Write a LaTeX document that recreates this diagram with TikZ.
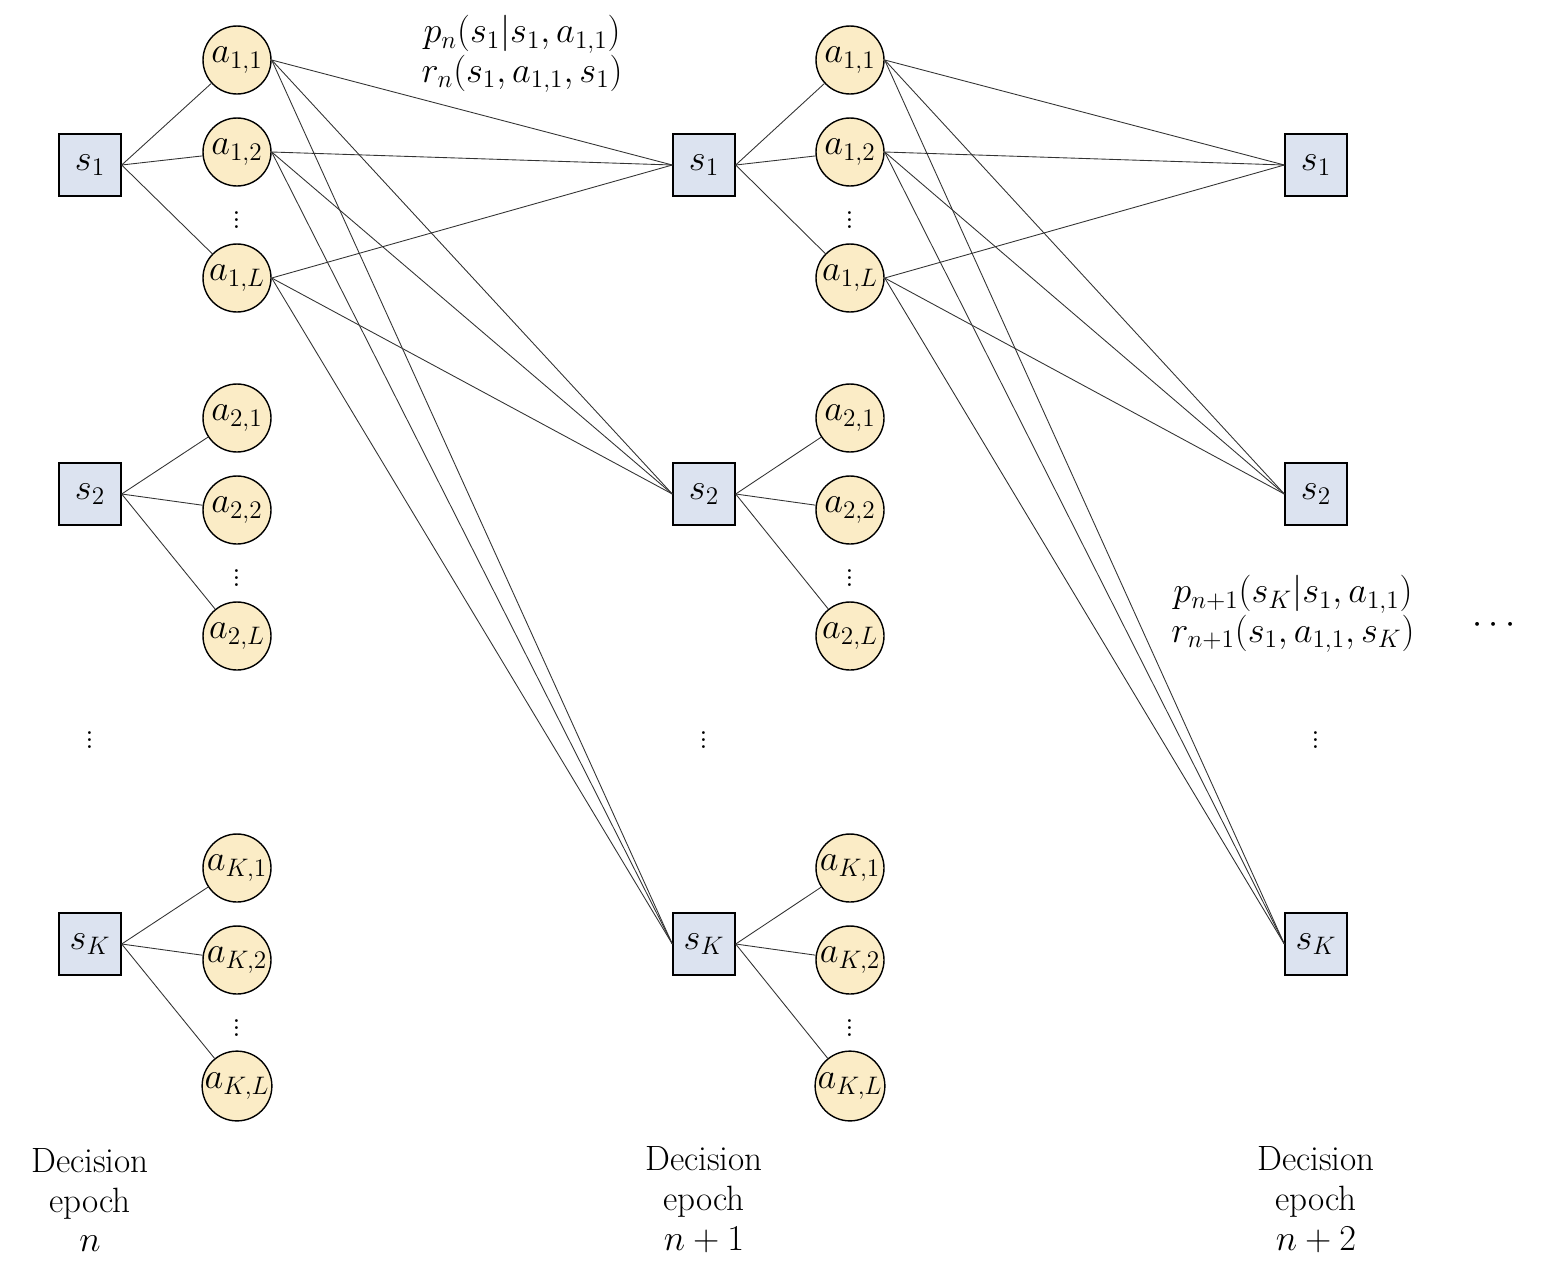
\documentclass[tikz,border=0pt]{standalone}
\usepackage{amsmath,amssymb}
\begin{document}
\begin{tikzpicture}[x=0.02cm,y=-0.02cm,
  state/.style={draw,line width=0.8pt,fill={rgb,255:red,220;green,227;blue,240},minimum size=1.24cm,inner sep=0pt},
  action/.style={circle,draw,line width=0.8pt,fill={rgb,255:red,251;green,236;blue,198},minimum size=1.36cm,inner sep=0pt},
  link/.style={draw=black!80,line width=0.5pt},
  lbl/.style={align=center,font=\fontsize{20}{22.7}\selectfont}]
\useasboundingbox (0,0) rectangle (1558,1275);
\fontsize{20}{22.7}\selectfont
% States of each epoch
\foreach \c/\x/\t in {1/90/n,2/704/n+1,3/1316/n+2}{
  \node[state] (s\c1) at (\x,165) {$s_1$};
  \node[state] (s\c2) at (\x,494) {$s_2$};
  \node[state] (s\c3) at (\x,944) {$s_K$};
  \node[inner sep=0pt] (d\c) at (\x,735) {$\vdots$};
  \node[lbl] (e\c) at (\x,1200) {Decision\\epoch\\$\t$};
}
% Actions of epochs n and n+1
\foreach \c/\x in {1/237,2/850}{
  \foreach \k/\K/\y in {1/1/60,2/2/418,3/K/868}{
    \node[action] (a\c\k1) at (\x,\y) {$a_{\K,1}$};
    \node[action] (a\c\k2) at (\x,\y+92) {$a_{\K,2}$};
    \node[inner sep=0pt] (v\c\k) at (\x,\y+155) {$\vdots$};
    \node[action] (a\c\k3) at (\x,\y+218) {$a_{\K,L}$};
    \foreach \j in {1,2,3} \draw[link] (s\c\k.east) -- (a\c\k\j);
  }
}
% Transitions
\foreach \c/\n in {1/2,2/3}
  \foreach \j in {1,2,3}
    \foreach \k in {1,2,3}
      \draw[link] (a\c1\j.east) -- (s\n\k.west);
\node[lbl] (p1) at (522,54) {$p_n(s_1|s_1,a_{1,1})$\\$r_n(s_1,a_{1,1},s_1)$};
\node[lbl] (p2) at (1293,614) {$p_{n+1}(s_K|s_1,a_{1,1})$\\$r_{n+1}(s_1,a_{1,1},s_K)$};
\node (more) at (1497,625) {$\cdots$};
\end{tikzpicture}
\end{document}
